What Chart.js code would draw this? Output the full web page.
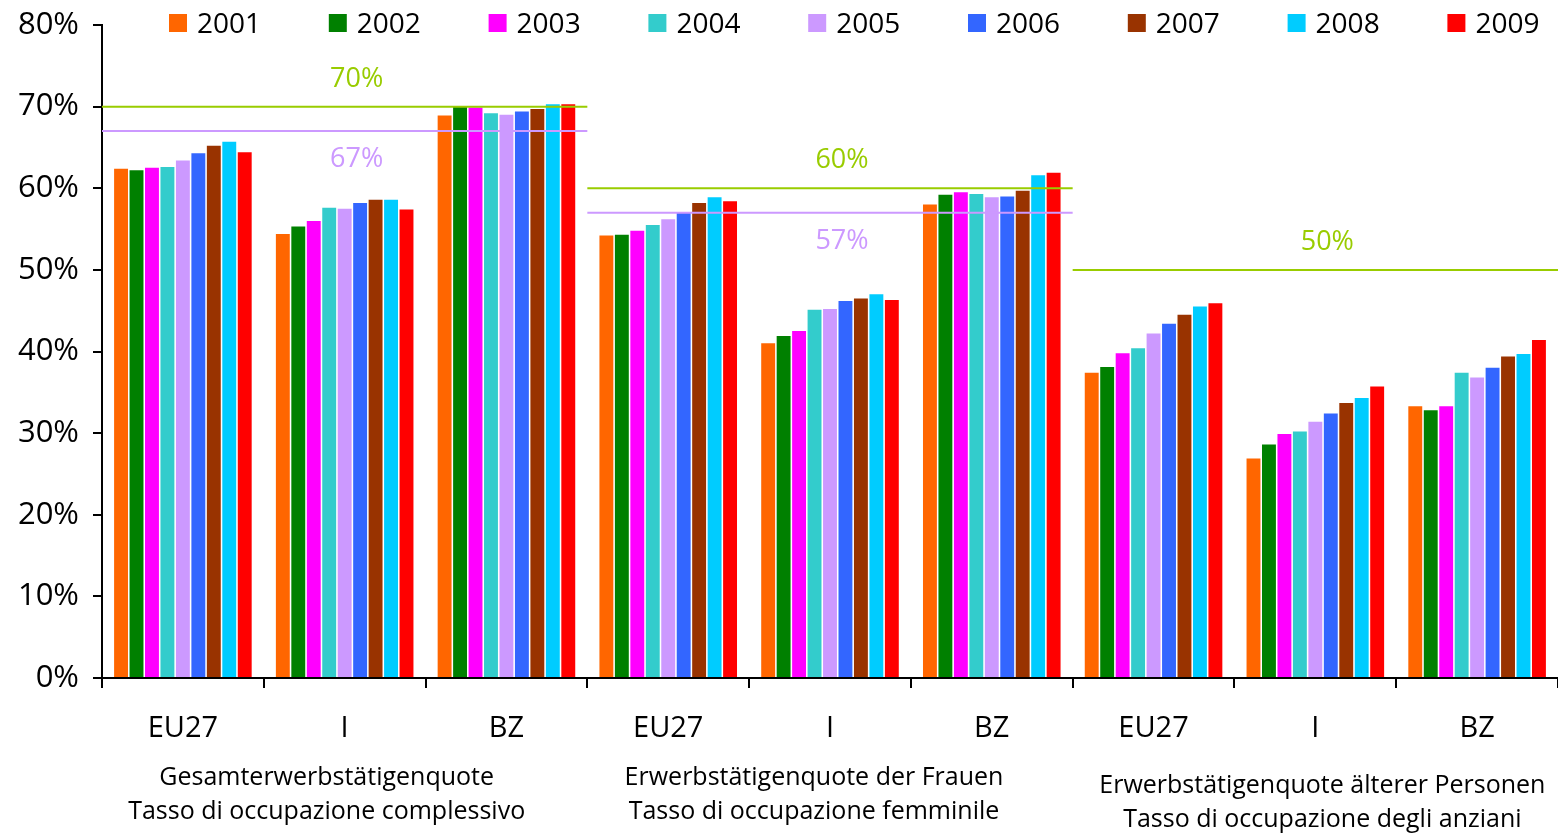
<!DOCTYPE html>
<html>
<head>
<meta charset="utf-8">
<script src="https://cdn.jsdelivr.net/npm/chart.js@4.4.0/dist/chart.umd.min.js"></script>
<style>
  html, body { margin: 0; padding: 0; background: #fff; }
  #wrap { width: 1558px; height: 837px; position: relative; }
</style>
</head>
<body>
<div id="wrap"><canvas id="chart"></canvas></div>
<script>
const categories = ['EU27', 'I', 'BZ', 'EU27', 'I', 'BZ', 'EU27', 'I', 'BZ'];
const groupLabels = [
  ['Gesamterwerbstätigenquote', 'Tasso di occupazione complessivo'],
  ['Erwerbstätigenquote der Frauen', 'Tasso di occupazione femminile'],
  ['Erwerbstätigenquote älterer Personen', 'Tasso di occupazione degli anziani']
];
const years = ['2001', '2002', '2003', '2004', '2005', '2006', '2007', '2008', '2009'];
const yearColors = ['#ff6600', '#008000', '#ff00ff', '#33cccc', '#cc99ff', '#3366ff', '#993300', '#00ccff', '#ff0000'];

// per year: EU27, I, BZ (total) | EU27, I, BZ (women) | EU27, I, BZ (older)
const v2001 = [62.4, 54.4, 68.9, 54.2, 41.0, 58.0, 37.4, 26.9, 33.3];
const v2002 = [62.2, 55.3, 70.0, 54.3, 41.9, 59.2, 38.1, 28.6, 32.8];
const v2003 = [62.5, 56.0, 69.9, 54.8, 42.5, 59.5, 39.8, 29.9, 33.3];
const v2004 = [62.6, 57.6, 69.2, 55.5, 45.1, 59.3, 40.4, 30.2, 37.4];
const v2005 = [63.4, 57.5, 69.0, 56.2, 45.2, 58.9, 42.2, 31.4, 36.8];
const v2006 = [64.3, 58.2, 69.4, 57.1, 46.2, 59.0, 43.4, 32.4, 38.0];
const v2007 = [65.2, 58.6, 69.7, 58.2, 46.5, 59.7, 44.5, 33.7, 39.4];
const v2008 = [65.7, 58.6, 70.3, 58.9, 47.0, 61.6, 45.5, 34.3, 39.7];
const v2009 = [64.4, 57.4, 70.3, 58.4, 46.3, 61.9, 45.9, 35.7, 41.4];
const yearValues = [v2001, v2002, v2003, v2004, v2005, v2006, v2007, v2008, v2009];

// target lines
const targetValues = [70, 67, 60, 57, 50];
const targetGroups = [0, 0, 1, 1, 2];
const targetColors = ['#99cc00', '#cc99ff', '#99cc00', '#cc99ff', '#99cc00'];
const targetAbove = [true, false, true, false, true];

const FONT = "'Open Sans', 'Liberation Sans', sans-serif";

const targetLines = {
  id: 'targetLines',
  afterDatasetsDraw(chart) {
    const { ctx, scales: { x, y } } = chart;
    const catW = x.width / categories.length;
    ctx.save();
    targetValues.forEach((val, i) => {
      const g = targetGroups[i];
      const x0 = x.getPixelForValue(g * 3) - catW / 2;
      const x1 = x.getPixelForValue(g * 3 + 2) + catW / 2;
      const py = y.getPixelForValue(val);
      ctx.strokeStyle = targetColors[i];
      ctx.lineWidth = 2;
      ctx.beginPath();
      ctx.moveTo(x0, py);
      ctx.lineTo(x1, py);
      ctx.stroke();
      ctx.fillStyle = targetColors[i];
      ctx.font = '27px ' + FONT;
      ctx.textAlign = 'center';
      ctx.textBaseline = 'alphabetic';
      const ly = targetAbove[i] ? py - 20 : py + 36;
      ctx.fillText(val + '%', (x0 + x1) / 2 + 12, ly);
    });
    ctx.restore();
  }
};

// second level of x labels, under the middle category of each group
const groupTitles = {
  id: 'groupTitles',
  afterDraw(chart) {
    const { ctx, scales: { x } } = chart;
    const shiftX = [-18, -16, 7];
    const shiftY = [0, 0, 8];
    ctx.save();
    ctx.font = '25px ' + FONT;
    ctx.fillStyle = '#000';
    ctx.textAlign = 'center';
    ctx.textBaseline = 'middle';
    groupLabels.forEach((lines, g) => {
      const cx = x.getPixelForValue(g * 3 + 1) + shiftX[g];
      lines.forEach((t, k) => {
        ctx.fillText(t, cx, x.bottom + 34 + k * 34 + shiftY[g]);
      });
    });
    ctx.restore();
  }
};

const topLegend = {
  id: 'topLegend',
  afterDraw(chart) {
    const { ctx, chartArea } = chart;
    ctx.save();
    ctx.font = '28px ' + FONT;
    ctx.textAlign = 'left';
    ctx.textBaseline = 'alphabetic';
    chart.data.datasets.forEach((ds, i) => {
      const bx = chartArea.left + 67 + i * 159.8;
      ctx.fillStyle = ds.backgroundColor;
      ctx.fillRect(bx, 14, 18, 18);
      ctx.fillStyle = '#000';
      ctx.fillText(ds.label, bx + 28, 33);
    });
    ctx.restore();
  }
};

new Chart(document.getElementById('chart'), {
  type: 'bar',
  data: {
    labels: categories,
    datasets: years.map((yr, i) => ({
      label: yr,
      data: yearValues[i],
      backgroundColor: yearColors[i],
      borderWidth: 0,
      barPercentage: 0.9,
      categoryPercentage: 0.86
    }))
  },
  options: {
    responsive: true,
    maintainAspectRatio: false,
    animation: false,
    layout: { padding: { top: 25, right: 0, bottom: 93, left: 0 } },
    plugins: {
      legend: { display: false },
      tooltip: { enabled: false }
    },
    scales: {
      x: {
        offset: true,
        afterFit: (s) => { s.height = 66; s.paddingLeft = 0; s.paddingRight = 0; },
        grid: { offset: true, drawOnChartArea: false, drawTicks: true, tickLength: 10, color: '#000', lineWidth: 2 },
        border: { color: '#000', width: 2 },
        ticks: { color: '#000', font: { family: FONT, size: 29 }, padding: 23, autoSkip: false, maxRotation: 0 }
      },
      y: {
        min: 0,
        max: 80,
        afterFit: (s) => { s.width = 102; s.paddingTop = 0; s.paddingBottom = 0; },
        grid: { drawOnChartArea: false, drawTicks: true, tickLength: 9, color: '#000', lineWidth: 2 },
        border: { color: '#000', width: 2 },
        ticks: { stepSize: 10, color: '#000', font: { family: FONT, size: 31 }, padding: 14, callback: (v) => v + '%' }
      }
    }
  },
  plugins: [targetLines, groupTitles, topLegend]
});
</script>
</body>
</html>
